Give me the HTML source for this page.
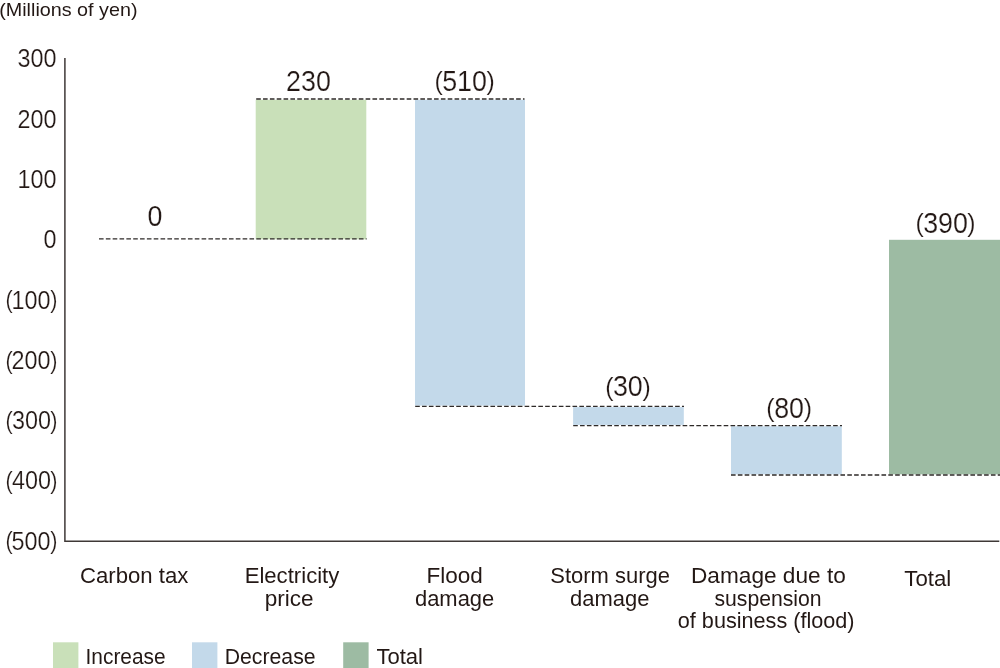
<!DOCTYPE html>
<html lang="en"><head><meta charset="utf-8"><title>Financial impact waterfall chart</title>
<style>html,body{margin:0;padding:0;background:#fff;}body{width:1000px;height:668px;overflow:hidden;}svg{display:block;}text{font-family:"Liberation Sans", sans-serif;fill:#231815;stroke:#fff;}</style></head><body>
<svg width="1000" height="668" viewBox="0 0 1000 668">
<rect x="0" y="0" width="1000" height="668" fill="#ffffff"/>
<rect x="255.7" y="99.8" width="110.6" height="139.5" fill="#c9e0b9"/>
<rect x="415.0" y="99.8" width="110.0" height="305.8" fill="#c3d9ea"/>
<rect x="573.1" y="407.1" width="110.7" height="17.8" fill="#c3d9ea"/>
<rect x="731.0" y="426.3" width="110.8" height="48.0" fill="#c3d9ea"/>
<rect x="889.0" y="239.8" width="111.0" height="234.5" fill="#9dbba3"/>
<rect x="53.0" y="642.3" width="25.4" height="26" fill="#c9e0b9"/>
<rect x="192.0" y="642.3" width="25.4" height="26" fill="#c3d9ea"/>
<rect x="343.2" y="642.3" width="25.4" height="26" fill="#9dbba3"/>
<line x1="99.0" y1="238.9" x2="366.6" y2="238.9" stroke="#2e2a28" stroke-width="1.3" stroke-dasharray="4.6 2.24"/>
<line x1="256.2" y1="99.0" x2="524.5" y2="99.0" stroke="#2e2a28" stroke-width="1.3" stroke-dasharray="4.6 2.24"/>
<line x1="415.2" y1="406.3" x2="684.0" y2="406.3" stroke="#2e2a28" stroke-width="1.3" stroke-dasharray="4.6 2.24"/>
<line x1="573.2" y1="425.6" x2="842.0" y2="425.6" stroke="#2e2a28" stroke-width="1.3" stroke-dasharray="4.6 2.24"/>
<line x1="731.0" y1="475.0" x2="1000.0" y2="475.0" stroke="#2e2a28" stroke-width="1.3" stroke-dasharray="4.6 2.24"/>
<path d="M64.9 58 V541.2 H999.3" fill="none" stroke="#3f3937" stroke-width="1.5"/>
<text transform="translate(-0.80 15.70) scale(1.0999 1)" font-size="17.97" style="stroke:none">(Millions of yen)</text>
<text transform="translate(17.45 67.35) scale(0.9250 1)" font-size="25.29" style="stroke-width:0.20px">300</text>
<text transform="translate(17.45 127.65) scale(0.9250 1)" font-size="25.29" style="stroke-width:0.20px">200</text>
<text transform="translate(17.45 187.95) scale(0.9250 1)" font-size="25.29" style="stroke-width:0.20px">100</text>
<text transform="translate(43.45 248.25) scale(0.9250 1)" font-size="25.29" style="stroke-width:0.20px">0</text>
<text transform="scale(0.9250 1)" font-size="25.29" style="stroke-width:0.20px"><tspan x="5.99" y="308.29" font-size="23.35">(</tspan><tspan x="12.39" y="308.65">100</tspan><tspan x="54.20" y="308.29" font-size="23.35">)</tspan></text>
<text transform="scale(0.9250 1)" font-size="25.29" style="stroke-width:0.20px"><tspan x="5.99" y="368.59" font-size="23.35">(</tspan><tspan x="12.39" y="368.95">200</tspan><tspan x="54.20" y="368.59" font-size="23.35">)</tspan></text>
<text transform="scale(0.9250 1)" font-size="25.29" style="stroke-width:0.20px"><tspan x="5.99" y="428.79" font-size="23.35">(</tspan><tspan x="12.89" y="429.15">300</tspan><tspan x="54.20" y="428.79" font-size="23.35">)</tspan></text>
<text transform="scale(0.9250 1)" font-size="25.29" style="stroke-width:0.20px"><tspan x="5.99" y="488.79" font-size="23.35">(</tspan><tspan x="12.89" y="489.15">400</tspan><tspan x="54.20" y="488.79" font-size="23.35">)</tspan></text>
<text transform="scale(0.9250 1)" font-size="25.29" style="stroke-width:0.20px"><tspan x="5.99" y="549.29" font-size="23.35">(</tspan><tspan x="12.39" y="549.65">500</tspan><tspan x="54.20" y="549.29" font-size="23.35">)</tspan></text>
<text transform="translate(147.52 226.00) scale(0.9350 1)" font-size="28.71" style="stroke-width:0.20px">0</text>
<text transform="translate(286.04 91.30) scale(0.9350 1)" font-size="28.71" style="stroke-width:0.20px">230</text>
<text transform="scale(0.9350 1)" font-size="28.71" style="stroke-width:0.20px"><tspan x="464.77" y="90.46" font-size="26.51">(</tspan><tspan x="472.94" y="90.90">510</tspan><tspan x="520.29" y="90.46" font-size="26.51">)</tspan></text>
<text transform="scale(0.9350 1)" font-size="28.71" style="stroke-width:0.20px"><tspan x="647.23" y="396.06" font-size="26.51">(</tspan><tspan x="655.57" y="396.50">30</tspan><tspan x="687.13" y="396.06" font-size="26.51">)</tspan></text>
<text transform="scale(0.9350 1)" font-size="28.71" style="stroke-width:0.20px"><tspan x="819.42" y="417.16" font-size="26.51">(</tspan><tspan x="827.98" y="417.60">80</tspan><tspan x="859.75" y="417.16" font-size="26.51">)</tspan></text>
<text transform="scale(0.9350 1)" font-size="28.71" style="stroke-width:0.20px"><tspan x="979.21" y="232.26" font-size="26.51">(</tspan><tspan x="987.32" y="232.70">390</tspan><tspan x="1034.62" y="232.26" font-size="26.51">)</tspan></text>
<text transform="translate(80.03 583.10) scale(0.9738 1)" font-size="22.75" style="stroke:none">Carbon tax</text>
<text transform="translate(244.63 583.10) scale(0.9736 1)" font-size="22.75" style="stroke:none">Electricity</text>
<text transform="translate(264.71 605.70) scale(0.9925 1)" font-size="22.75" style="stroke:none">price</text>
<text transform="translate(426.51 583.10) scale(0.9899 1)" font-size="22.75" style="stroke:none">Flood</text>
<text transform="translate(415.00 605.70) scale(0.9637 1)" font-size="22.75" style="stroke:none">damage</text>
<text transform="translate(550.23 583.10) scale(0.9660 1)" font-size="22.75" style="stroke:none">Storm surge</text>
<text transform="translate(570.00 605.70) scale(0.9662 1)" font-size="22.75" style="stroke:none">damage</text>
<text transform="translate(691.00 583.10) scale(0.9954 1)" font-size="22.75" style="stroke:none">Damage due to</text>
<text transform="translate(714.50 605.70) scale(0.9315 1)" font-size="22.75" style="stroke:none">suspension</text>
<text transform="translate(677.80 628.20) scale(0.9519 1)" font-size="22.75" style="stroke:none">of business (flood)</text>
<text transform="translate(904.30 586.20) scale(0.9766 1)" font-size="22.75" style="stroke:none">Total</text>
<text transform="translate(85.57 664.40) scale(0.9172 1)" font-size="22.75" style="stroke:none">Increase</text>
<text transform="translate(224.67 664.40) scale(0.9340 1)" font-size="22.75" style="stroke:none">Decrease</text>
<text transform="translate(376.40 664.40) scale(0.9702 1)" font-size="22.75" style="stroke:none">Total</text>
</svg></body></html>
